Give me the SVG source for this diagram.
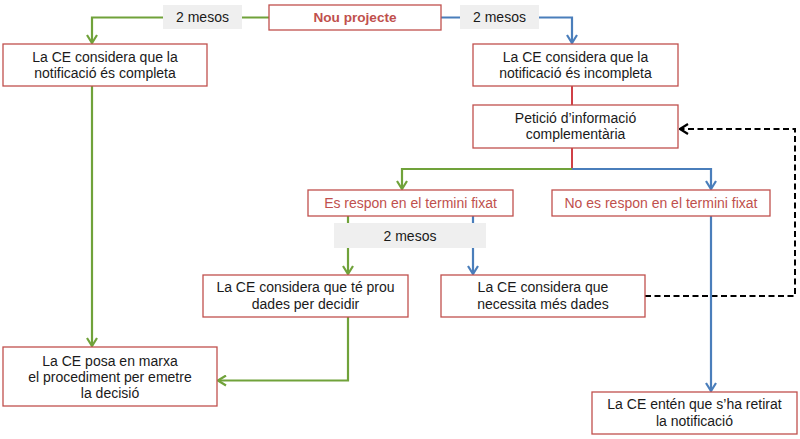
<svg xmlns="http://www.w3.org/2000/svg" width="800" height="439" viewBox="0 0 800 439">
<style>
.box{fill:#fff;stroke:#c0504d;stroke-width:1.3}
.lbl{fill:#efefef}
.t{font-family:"Liberation Sans",Arial,sans-serif;font-size:14px;fill:#1a1a1a;text-anchor:middle}
.r{fill:#c0504d}
.b{font-weight:bold;font-size:13.6px}
.g{fill:none;stroke:#70a23a;stroke-width:2.2}
.bl{fill:none;stroke:#4a7ebb;stroke-width:2.2}
.rd{fill:none;stroke:#c0000a;stroke-width:1.5}
.dash{fill:none;stroke:#000;stroke-width:2;stroke-dasharray:6,3.5}
</style>
<defs>
<marker id="ag" viewBox="0 0 10 12" refX="9" refY="6" markerWidth="10" markerHeight="12" markerUnits="userSpaceOnUse" orient="auto"><path d="M1,1 L9,6 L1,11" fill="none" stroke="#70a23a" stroke-width="2.2"/></marker>
<marker id="ab" viewBox="0 0 10 12" refX="9" refY="6" markerWidth="10" markerHeight="12" markerUnits="userSpaceOnUse" orient="auto"><path d="M1,1 L9,6 L1,11" fill="none" stroke="#4a7ebb" stroke-width="2.2"/></marker>
<marker id="ak" viewBox="0 0 10 12" refX="9" refY="6" markerWidth="10" markerHeight="12" markerUnits="userSpaceOnUse" orient="auto"><path d="M1,1 L9,6 L1,11" fill="none" stroke="#000" stroke-width="2.2"/></marker>
</defs>
<rect width="800" height="439" fill="#fff"/>
<g id="connectors">
<path class="g" d="M269,17.5 H92 V43" marker-end="url(#ag)"/>
<path class="bl" d="M441,17.5 H572 V43" marker-end="url(#ab)"/>
<path class="rd" d="M572,86 V105"/>
<path class="rd" d="M572,148 V169"/>
<path class="g" d="M572,169 H402 V189" marker-end="url(#ag)"/>
<path class="bl" d="M572,169 H711 V189" marker-end="url(#ab)"/>
<path class="g" d="M348,216 V274" marker-end="url(#ag)"/>
<path class="bl" d="M473,216 V274" marker-end="url(#ab)"/>
<path class="dash" d="M645,296 H795 V129 H680" marker-end="url(#ak)"/>
<path class="bl" d="M711,216 V391" marker-end="url(#ab)"/>
<path class="g" d="M348,317 V380.5 H218" marker-end="url(#ag)"/>
<path class="g" d="M92,86 V346" marker-end="url(#ag)"/>
</g>
<g id="lbl1"><rect class="lbl" x="163" y="5" width="79" height="24"/><text class="t" x="202.5" y="22">2 mesos</text></g>
<g id="lbl2"><rect class="lbl" x="460" y="5" width="79" height="24"/><text class="t" x="499.5" y="22">2 mesos</text></g>
<g id="lbl3"><rect class="lbl" x="334" y="223" width="152" height="25"/><text class="t" x="410" y="240.5">2 mesos</text></g>
<g id="nou"><rect class="box" x="269" y="5" width="172" height="25"/><text class="t r b" x="355" y="22">Nou projecte</text></g>
<g id="completa"><rect class="box" x="3" y="44" width="204" height="42"/><text class="t" x="105" y="61.5">La CE considera que la</text><text class="t" x="105" y="78">notificació és completa</text></g>
<g id="incompleta"><rect class="box" x="473" y="44" width="205" height="42"/><text class="t" x="575.5" y="61.5">La CE considera que la</text><text class="t" x="575.5" y="78">notificació és incompleta</text></g>
<g id="peticio"><rect class="box" x="473" y="105" width="205" height="43"/><text class="t" x="575.5" y="122.5">Petició d’informació</text><text class="t" x="575.5" y="139">complementària</text></g>
<g id="esrespon"><rect class="box" x="308" y="190" width="205" height="26"/><text class="t r" x="410.5" y="208">Es respon en el termini fixat</text></g>
<g id="noesrespon"><rect class="box" x="552" y="190" width="218" height="26"/><text class="t r" x="661" y="208">No es respon en el termini fixat</text></g>
<g id="prou"><rect class="box" x="203" y="275" width="205" height="42"/><text class="t" x="305.5" y="291.5">La CE considera que té prou</text><text class="t" x="305.5" y="308.5">dades per decidir</text></g>
<g id="necessita"><rect class="box" x="441" y="275" width="204" height="42"/><text class="t" x="543" y="291.5">La CE considera que</text><text class="t" x="543" y="308.5">necessita més dades</text></g>
<g id="decisio"><rect class="box" x="3" y="347" width="214" height="59"/><text class="t" x="110" y="365.5">La CE posa en marxa</text><text class="t" x="110" y="381.5">el procediment per emetre</text><text class="t" x="110" y="397.5">la decisió</text></g>
<g id="retirat"><rect class="box" x="592" y="392" width="205" height="42"/><text class="t" x="694.5" y="408.5">La CE entén que s’ha retirat</text><text class="t" x="694.5" y="425.5">la notificació</text></g>
</svg>
